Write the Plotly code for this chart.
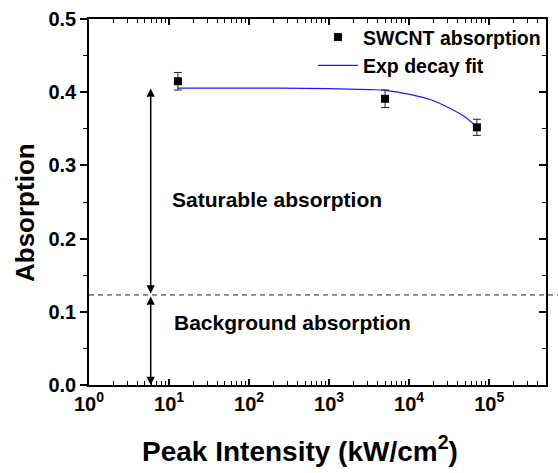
import math
import plotly.graph_objects as go

# Data
intensity = [12.9, 5000, 70200]
absorption = [0.415, 0.391, 0.352]
abs_err = [0.012, 0.012, 0.011]

fit_x = [12.9, 100, 1000, 3240, 5000, 10200, 18200, 32200, 50000, 70200]
fit_y = [0.4055, 0.4055, 0.405, 0.4035, 0.4026, 0.397, 0.390, 0.378, 0.366, 0.352]

background_level = 0.123
saturable_top = 0.405
arrow_x = 5.9

x_tickvals = [1, 10, 100, 1000, 10000, 100000]
x_ticktext = ["10<sup>0</sup>", "10<sup>1</sup>", "10<sup>2</sup>", "10<sup>3</sup>", "10<sup>4</sup>", "10<sup>5</sup>"]
y_tickvals = [0.0, 0.1, 0.2, 0.3, 0.4, 0.5]
y_ticktext = ["0.0", "0.1", "0.2", "0.3", "0.4", "0.5"]

FONT = "Liberation Sans, Arial, Helvetica, sans-serif"
bold = dict(family=FONT, color="black", weight="bold")

fig = go.Figure()

fig.add_trace(go.Scatter(
    x=fit_x, y=fit_y, mode="lines", name="Exp decay fit",
    line=dict(color="#1a1aff", width=1.2, shape="spline"),
    legendrank=2,
))
fig.add_trace(go.Scatter(
    x=intensity, y=absorption, mode="markers", name="SWCNT absorption",
    marker=dict(symbol="square", size=8, color="black"),
    error_y=dict(type="data", array=abs_err, color="#222", thickness=1, width=4),
    legendrank=1,
))

# invisible trace for right axis
fig.add_trace(go.Scatter(x=[1], y=[0], yaxis="y2", mode="markers",
                         marker=dict(opacity=0), showlegend=False, hoverinfo="skip"))

fig.add_shape(type="line", xref="paper", yref="y", x0=0, x1=1.03,
              y0=background_level, y1=background_level,
              line=dict(color="#222", width=1, dash="5px,4px"))

lx = math.log10(arrow_x)
for (y_head, y_tail) in [(saturable_top, background_level), (0.0, background_level)]:
    fig.add_annotation(x=lx, y=y_head, ax=lx, ay=y_tail, xref="x", yref="y",
                       axref="x", ayref="y", text="", showarrow=True,
                       arrowhead=2, arrowside="end+start", arrowsize=1.1,
                       arrowwidth=1.5, arrowcolor="black")

fig.add_annotation(x=math.log10(10.2), y=0.253, text="Saturable absorption",
                   showarrow=False, xanchor="left", yanchor="middle",
                   font=dict(size=21, **bold))
fig.add_annotation(x=math.log10(10.8), y=0.086, text="Background absorption",
                   showarrow=False, xanchor="left", yanchor="middle",
                   font=dict(size=21, **bold))

fig.add_annotation(xref="paper", yref="paper", x=0.462, y=-0.175,
                   text="Peak Intensity (kW/cm<sup style='font-size:125%'>2</sup>)",
                   showarrow=False, xanchor="center", yanchor="middle",
                   font=dict(size=28, **bold))

fig.add_annotation(xref="paper", yref="paper", x=-0.14, y=0.47,
                   text="Absorption", textangle=-90,
                   showarrow=False, xanchor="center", yanchor="middle",
                   font=dict(size=26, **bold))

fig.update_layout(
    width=558, height=473,
    margin=dict(l=89, r=12, t=19, b=88, autoexpand=False),
    paper_bgcolor="white", plot_bgcolor="white",
    showlegend=True,
    legend=dict(x=1.0, y=1.003, xanchor="right", yanchor="top",
                bgcolor="rgba(0,0,0,0)", font=dict(size=19.5, **bold),
                itemwidth=40, tracegroupgap=0),
    xaxis=dict(type="log", range=[0, 5.71], tickvals=x_tickvals, ticktext=x_ticktext,
               ticks="inside", ticklen=6, tickwidth=1.5, tickcolor="black",
               showline=True, linecolor="black", linewidth=1.5, mirror="ticks",
               showgrid=False, zeroline=False, automargin=False,
               minor=dict(ticks="inside", ticklen=4, tickwidth=1, tickcolor="black", dtick="D1"),
               tickfont=dict(size=20, **bold)),
    yaxis=dict(range=[0, 0.5], tickvals=y_tickvals, ticktext=y_ticktext,
               ticks="outside", ticklen=7, tickwidth=1.5, tickcolor="black",
               showline=True, linecolor="black", linewidth=1.5, automargin=False,
               showgrid=False, zeroline=False,
               minor=dict(ticks="outside", ticklen=4, tickwidth=1.2, tickcolor="black", dtick=0.05),
               tickfont=dict(size=20, **bold)),
    yaxis2=dict(range=[0, 0.5], overlaying="y", side="right", tickvals=y_tickvals,
                showticklabels=False, ticks="inside", ticklen=7, tickwidth=1.5, tickcolor="black",
                showline=True, linecolor="black", linewidth=1.5, showgrid=False, zeroline=False,
                automargin=False,
                minor=dict(ticks="inside", ticklen=4, tickwidth=1.2, tickcolor="black", dtick=0.05)),
)

fig.write_html("out.html")
